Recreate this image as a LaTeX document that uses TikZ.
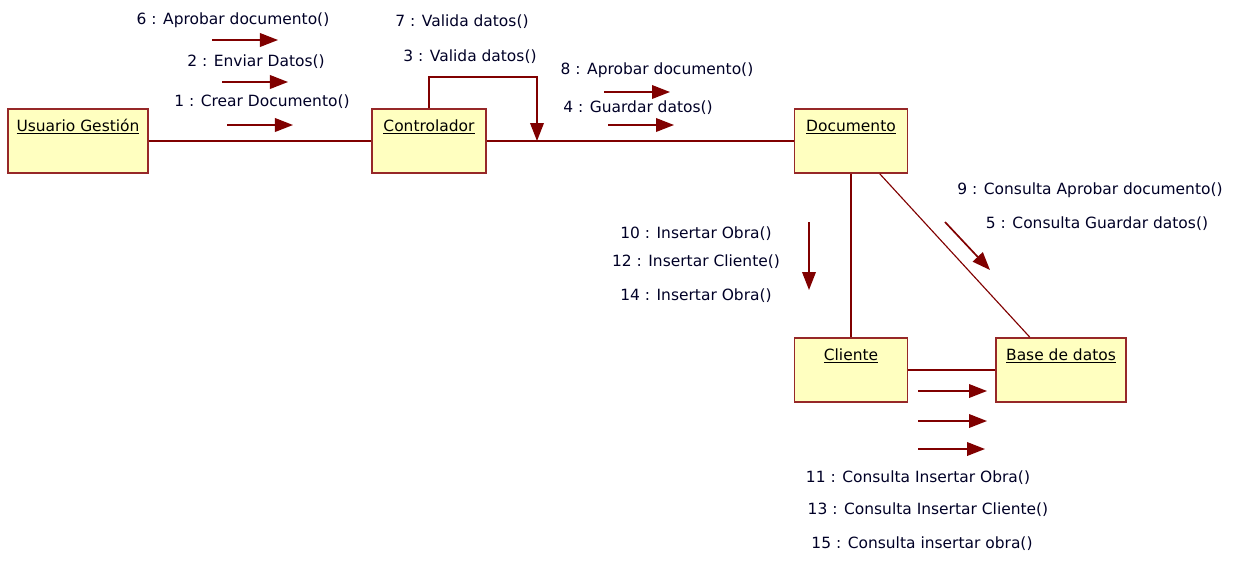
\documentclass[tikz,border=0pt]{standalone}
\usepackage{fontspec}
\setmainfont{DejaVu Sans}
\usetikzlibrary{arrows.meta}
\definecolor{linea}{RGB}{128,0,0}
\definecolor{borde}{RGB}{150,40,40}
\definecolor{relleno}{RGB}{255,255,192}

\begin{document}
\begin{tikzpicture}[x=0.025cm,y=-0.025cm,
	obj/.style={draw=borde,fill=relleno,line width=1.2pt,inner xsep=0pt,inner ysep=0.12cm,
		text height=0.43cm,text depth=0.93cm,font=\fontsize{11}{13}\selectfont},
	msg/.style={font=\fontsize{11}{13}\selectfont,text=black!85!blue,inner sep=0pt},
	flecha/.style={-{Triangle[length=0.45cm,width=0.34cm]},color=linea,line width=1.2pt}]
	\useasboundingbox (0,0) rectangle (1238,561);
	% objetos
	\node[obj,minimum width=3.5cm] (U) at (78,141) {\underline{Usuario Gestión}};
	\node[obj,minimum width=2.85cm] (C) at (429,141) {\underline{Controlador}};
	\node[obj,minimum width=2.83cm] (D) at (851,141) {\underline{Documento}};
	\node[obj,minimum width=2.83cm] (Cl) at (851,370) {\underline{Cliente}};
	\node[obj,minimum width=3.25cm] (B) at (1061,370) {\underline{Base de datos}};
	% enlaces
	\path[-,color=linea,line width=1.2pt]
	     (U) edge (C)  (C) edge (D)
	     (D) edge (Cl)  (Cl) edge (B);
	\draw[color=linea,line width=0.8pt] ([xshift=0.72cm]D.south) -- ([xshift=-0.78cm]B.north);
	\coordinate (L1) at (537,77);
	\coordinate (L2) at (537,141);
	\draw[flecha] (C.north) |- (L1) -- (L2);
	% mensajes
	\node[msg] (M6) at (233,20) {6 : Aprobar documento()};
	\node[msg] (M2) at (256,62) {2 : Enviar Datos()};
	\node[msg] (M1) at (262,102) {1 : Crear Documento()};
	\node[msg] (M7) at (462,22) {7 : Valida datos()};
	\node[msg] (M3) at (470,57) {3 : Valida datos()};
	\node[msg] (M8) at (657,70) {8 : Aprobar documento()};
	\node[msg] (M4) at (638,108) {4 : Guardar datos()};
	\node[msg] (M9) at (1090,190) {9 : Consulta Aprobar documento()};
	\node[msg] (M5) at (1097,224) {5 : Consulta Guardar datos()};
	\node[msg] (M10) at (696,234) {10 : Insertar Obra()};
	\node[msg] (M12) at (696,262) {12 : Insertar Cliente()};
	\node[msg] (M14) at (696,296) {14 : Insertar Obra()};
	\node[msg] (M11) at (918,478) {11 : Consulta Insertar Obra()};
	\node[msg] (M13) at (928,510) {13 : Consulta Insertar Cliente()};
	\node[msg] (M15) at (922,544) {15 : Consulta insertar obra()};
	% flechas de mensaje
	\coordinate (a1) at (212,40);  \coordinate (b1) at (278,40);
	\coordinate (a2) at (222,82);  \coordinate (b2) at (288,82);
	\coordinate (a3) at (227,125); \coordinate (b3) at (293,125);
	\coordinate (a4) at (604,92);  \coordinate (b4) at (670,92);
	\coordinate (a5) at (608,125); \coordinate (b5) at (674,125);
	\coordinate (a6) at (945,222); \coordinate (b6) at (990,270);
	\coordinate (a7) at (809,222); \coordinate (b7) at (809,290);
	\coordinate (a8) at (918,391); \coordinate (b8) at (987,391);
	\coordinate (a9) at (918,421); \coordinate (b9) at (987,421);
	\coordinate (a10) at (918,449); \coordinate (b10) at (985,449);
	\foreach \i in {1,...,10}
		\draw[flecha] (a\i) -- (b\i);
\end{tikzpicture}
\end{document}
